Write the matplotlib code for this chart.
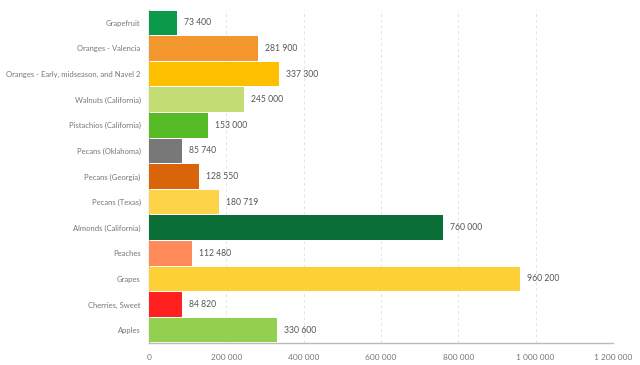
import matplotlib
matplotlib.use("Agg")
import matplotlib.pyplot as plt

categories = ["Grapefruit", "Oranges - Valencia", "Oranges - Early, midseason, and Navel 2",
              "Walnuts (California)", "Pistachios (California)", "Pecans (Oklahoma)",
              "Pecans (Georgia)", "Pecans (Texas)", "Almonds (California)", "Peaches",
              "Grapes", "Cherries, Sweet", "Apples"]
values = [73400, 281900, 337300, 245000, 153000, 85740, 128550, 180719, 760000,
          112480, 960200, 84820, 330600]
colors = ["#0a9a4a", "#f4962e", "#fdbf00", "#c3dc73", "#56bb25", "#787878", "#d9640a",
          "#fdd34a", "#0a7038", "#ff8a5a", "#fdd035", "#ff2020", "#94d050"]
xticks = [0, 200000, 400000, 600000, 800000, 1000000, 1200000]

plt.rcParams['font.family'] = ['Lato', 'DejaVu Sans']

def fmt(v):
    return f"{int(round(v)):,}".replace(",", " ")

fig = plt.figure(figsize=(6.4, 3.65), dpi=100)
ax = fig.add_axes([149/640, 1-343/365, (613-149)/640, (343-10)/365])

n = len(categories)
ypos = list(range(n))[::-1]
ax.barh(ypos, values, height=0.96, color=colors, zorder=3)
for y, v in zip(ypos, values):
    ax.text(v + 18000, y, fmt(v), va='center', ha='left', fontsize=6.2, color='#555555')

ax.set_yticks(ypos)
ax.set_yticklabels(categories, fontsize=5.5, color='#777777')
ax.set_xticks(xticks)
ax.set_xticklabels([fmt(t) for t in xticks], fontsize=6.0, color='#777777')
ax.set_xlim(0, 1200000)
ax.set_ylim(-0.5, n - 0.5)
ax.tick_params(axis='x', length=0, pad=8)
ax.tick_params(axis='y', length=0, pad=6)
ax.grid(axis='x', color='#e4e4e4', linestyle=(0, (3, 3)), linewidth=0.7, zorder=0)
for s in ['top', 'right']:
    ax.spines[s].set_visible(False)
ax.spines['bottom'].set_color('#bbbbbb')
ax.spines['left'].set_color('#bbbbbb')
ax.spines['bottom'].set_linewidth(1)
ax.spines['left'].set_linewidth(1)

fig.savefig("out.png", dpi=100)
